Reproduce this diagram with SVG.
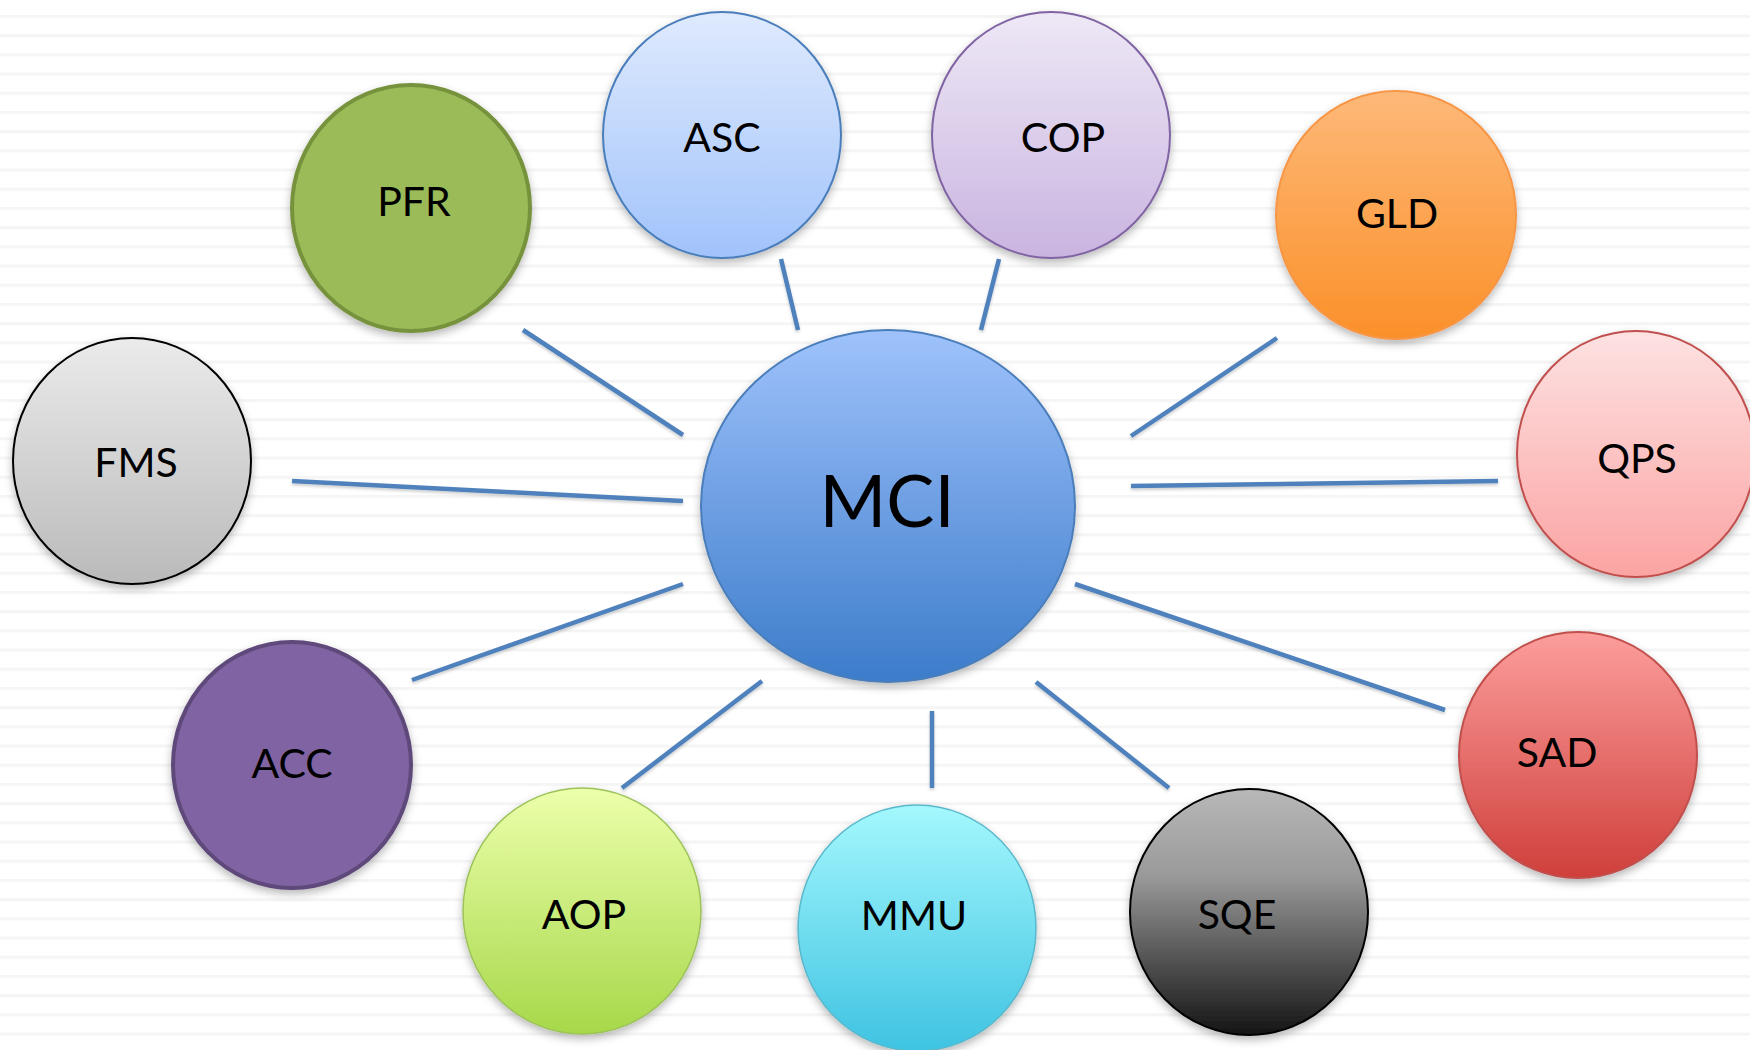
<svg xmlns="http://www.w3.org/2000/svg" width="1750" height="1050" viewBox="0 0 1750 1050">
  <defs>
    <pattern id="stripes" x="0" y="15" width="1750" height="19.2" patternUnits="userSpaceOnUse">
      <rect x="0" y="0" width="1750" height="3" fill="#f5f5f5"/>
    </pattern>
    <filter id="shadow" x="-20%" y="-20%" width="140%" height="140%">
      <feDropShadow dx="0" dy="4" stdDeviation="4" flood-color="#000" flood-opacity="0.28"/>
    </filter>
    <filter id="lshadow" x="-10%" y="-10%" width="120%" height="120%">
      <feDropShadow dx="0" dy="2" stdDeviation="1.5" flood-color="#000" flood-opacity="0.2"/>
    </filter>
    <linearGradient id="gMCI" x1="0" y1="0" x2="0" y2="1"><stop offset="0" stop-color="#9fc2fb"/><stop offset="1" stop-color="#3c7cca"/></linearGradient>
    <linearGradient id="gASC" x1="0" y1="0" x2="0" y2="1"><stop offset="0" stop-color="#dfeafd"/><stop offset="1" stop-color="#a1c3fb"/></linearGradient>
    <linearGradient id="gCOP" x1="0" y1="0" x2="0" y2="1"><stop offset="0" stop-color="#eee8f6"/><stop offset="1" stop-color="#c9b4e0"/></linearGradient>
    <linearGradient id="gGLD" x1="0" y1="0" x2="0" y2="1"><stop offset="0" stop-color="#fdb979"/><stop offset="1" stop-color="#fb9029"/></linearGradient>
    <linearGradient id="gFMS" x1="0" y1="0" x2="0" y2="1"><stop offset="0" stop-color="#ebebeb"/><stop offset="1" stop-color="#bababa"/></linearGradient>
    <linearGradient id="gQPS" x1="0" y1="0" x2="0" y2="1"><stop offset="0" stop-color="#fde2e2"/><stop offset="1" stop-color="#fba4a3"/></linearGradient>
    <linearGradient id="gSAD" x1="0" y1="0" x2="0" y2="1"><stop offset="0" stop-color="#fc9e9c"/><stop offset="1" stop-color="#cf3f3b"/></linearGradient>
    <linearGradient id="gSQE" x1="0" y1="0" x2="0" y2="1"><stop offset="0" stop-color="#b8b8b8"/><stop offset="0.35" stop-color="#9a9a9a"/><stop offset="1" stop-color="#141414"/></linearGradient>
    <linearGradient id="gMMU" x1="0" y1="0" x2="0" y2="1"><stop offset="0" stop-color="#a4f8fd"/><stop offset="1" stop-color="#3fc3e2"/></linearGradient>
    <linearGradient id="gAOP" x1="0" y1="0" x2="0" y2="1"><stop offset="0" stop-color="#ecffab"/><stop offset="1" stop-color="#a7d84a"/></linearGradient>
    <style>
      .lbl { font-family: Lato, "Open Sans", "Liberation Sans", sans-serif; font-size: 41px; fill: #000; text-anchor: middle; }
      .big { font-size: 72px; }
      .conn line { stroke: #4f81bd; stroke-width: 4.5; stroke-linecap: butt; }
      .node ellipse { filter: url(#shadow); }
    </style>
  </defs>

  <rect x="0" y="0" width="1750" height="1050" fill="#ffffff"/>
  <rect x="0" y="0" width="1750" height="1050" fill="url(#stripes)"/>

  <g id="connectors" class="conn" filter="url(#lshadow)">
    <line x1="523" y1="330" x2="683" y2="435"/>
    <line x1="781" y1="259" x2="798" y2="330"/>
    <line x1="999" y1="259" x2="981" y2="330"/>
    <line x1="1277" y1="338" x2="1131" y2="436"/>
    <line x1="1131" y1="486" x2="1498" y2="481"/>
    <line x1="1075" y1="584" x2="1445" y2="710"/>
    <line x1="1036" y1="682" x2="1169" y2="788"/>
    <line x1="932" y1="711" x2="932" y2="788"/>
    <line x1="762" y1="681" x2="622" y2="788"/>
    <line x1="683" y1="584" x2="412" y2="680"/>
    <line x1="292" y1="481" x2="683" y2="501"/>
  </g>

  <g id="node-MCI" class="node">
    <ellipse cx="888" cy="506" rx="187" ry="176" fill="url(#gMCI)" stroke="#4a7ebb" stroke-width="2"/>
    <text class="lbl big" x="887" y="527">MCI</text>
  </g>
  <g id="node-ASC" class="node">
    <ellipse cx="722" cy="135" rx="119" ry="123" fill="url(#gASC)" stroke="#4a7ebb" stroke-width="2"/>
    <text class="lbl" x="722" y="152">ASC</text>
  </g>
  <g id="node-COP" class="node">
    <ellipse cx="1051" cy="135" rx="119" ry="123" fill="url(#gCOP)" stroke="#8064a2" stroke-width="2"/>
    <text class="lbl" x="1063" y="152">COP</text>
  </g>
  <g id="node-GLD" class="node">
    <ellipse cx="1396" cy="215" rx="120" ry="124" fill="url(#gGLD)" stroke="#f79646" stroke-width="2"/>
    <text class="lbl" x="1397" y="228">GLD</text>
  </g>
  <g id="node-PFR" class="node">
    <ellipse cx="411" cy="208" rx="119" ry="123" fill="#9bbb59" stroke="#76923c" stroke-width="4"/>
    <text class="lbl" x="414" y="216">PFR</text>
  </g>
  <g id="node-FMS" class="node">
    <ellipse cx="132" cy="461" rx="119" ry="123" fill="url(#gFMS)" stroke="#000" stroke-width="2"/>
    <text class="lbl" x="136" y="477">FMS</text>
  </g>
  <g id="node-QPS" class="node">
    <ellipse cx="1636" cy="454" rx="119" ry="123" fill="url(#gQPS)" stroke="#c0504d" stroke-width="2"/>
    <text class="lbl" x="1637" y="473">QPS</text>
  </g>
  <g id="node-SAD" class="node">
    <ellipse cx="1578" cy="755" rx="119" ry="123" fill="url(#gSAD)" stroke="#c0504d" stroke-width="2"/>
    <text class="lbl" x="1557" y="767">SAD</text>
  </g>
  <g id="node-SQE" class="node">
    <ellipse cx="1249" cy="912" rx="119" ry="123" fill="url(#gSQE)" stroke="#000" stroke-width="2"/>
    <text class="lbl" x="1237" y="929">SQE</text>
  </g>
  <g id="node-MMU" class="node">
    <ellipse cx="917" cy="928" rx="119" ry="123" fill="url(#gMMU)" stroke="#5ab8cc" stroke-width="1.5"/>
    <text class="lbl" x="914" y="930">MMU</text>
  </g>
  <g id="node-AOP" class="node">
    <ellipse cx="582" cy="911" rx="119" ry="123" fill="url(#gAOP)" stroke="#9cc25a" stroke-width="1.5"/>
    <text class="lbl" x="584" y="929">AOP</text>
  </g>
  <g id="node-ACC" class="node">
    <ellipse cx="292" cy="765" rx="119" ry="123" fill="#8064a2" stroke="#5f497a" stroke-width="4"/>
    <text class="lbl" x="292" y="778">ACC</text>
  </g>
</svg>
